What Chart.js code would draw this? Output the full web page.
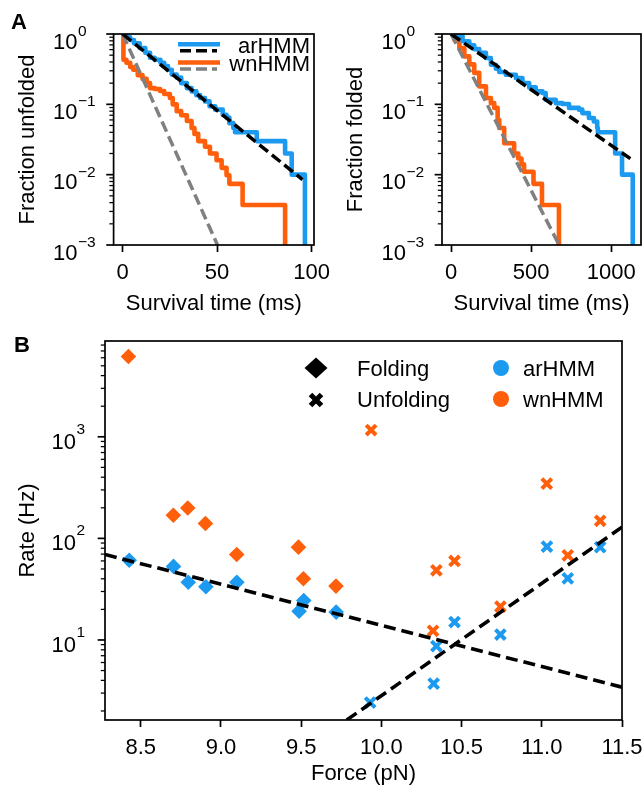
<!DOCTYPE html>
<html>
<head>
<meta charset="utf-8">
<title>Survival times and rates</title>
<script src="https://cdn.jsdelivr.net/npm/chart.js@4.4.1/dist/chart.umd.min.js"></script>
<style>
	html, body { margin: 0; padding: 0; background: #fff; }
	body { width: 642px; height: 790px; position: relative; overflow: hidden; }
	.panel { position: absolute; }
</style>
</head>
<body>
<div class="panel" style="left:0;top:0;width:330px;height:320px"><canvas id="chartUnfold" width="330" height="320"></canvas></div>
<div class="panel" style="left:330px;top:0;width:312px;height:320px"><canvas id="chartFold" width="312" height="320"></canvas></div>
<div class="panel" style="left:0;top:320px;width:642px;height:470px"><canvas id="chartRates" width="642" height="470"></canvas></div>
<script>
// panel A, left: unfolded state survival (ms, fraction)
var unfoldArTime = [0, 2, 4, 6, 9, 12, 14.5, 17, 20, 22, 24, 26, 28.6, 31, 34, 36.5, 39, 41, 43.6, 46, 49, 53, 55, 56.5, 58.6, 59.5, 71, 86, 89.5, 96.5];
var unfoldArFrac = [1, 0.9, 0.82, 0.74, 0.63, 0.54, 0.46, 0.43, 0.39, 0.35, 0.31, 0.265, 0.24, 0.2, 0.17, 0.153, 0.135, 0.123, 0.11, 0.094, 0.084, 0.071, 0.065, 0.054, 0.046, 0.04, 0.03, 0.02, 0.01, 0.0002];
var unfoldWnTime = [0, 0.4, 2, 4, 5.6, 8, 10.5, 12.7, 14.5, 17, 19.8, 22, 25, 26.5, 28.6, 31, 34, 36.5, 38, 40, 43.6, 46.2, 49.7, 52.4, 55, 56.5, 63.5, 86];
var unfoldWnFrac = [1, 0.43, 0.39, 0.34, 0.31, 0.26, 0.23, 0.2, 0.17, 0.165, 0.155, 0.14, 0.123, 0.1, 0.08, 0.07, 0.058, 0.046, 0.038, 0.03, 0.025, 0.02, 0.016, 0.0125, 0.0098, 0.0074, 0.0037, 0.0002];
var unfoldArFitTime = [0, 95.2];
var unfoldArFitFrac = [1, 0.0085];
var unfoldWnFitTime = [0, 50.2];
var unfoldWnFitFrac = [1, 0.001];

// panel A, right: folded state survival (ms, fraction)
var foldArTime = [0, 31, 72, 114, 145, 176, 218, 249, 280, 301, 342, 405, 446, 488, 529, 571, 591, 654, 695, 737, 799, 820, 861, 892, 913, 917, 1025, 1068, 1135];
var foldArFrac = [1, 0.93, 0.79, 0.69, 0.61, 0.54, 0.456, 0.366, 0.32, 0.288, 0.264, 0.237, 0.201, 0.174, 0.153, 0.145, 0.116, 0.104, 0.101, 0.089, 0.084, 0.075, 0.064, 0.057, 0.046, 0.04, 0.02, 0.01, 0.0002];
var foldWnTime = [0, 21, 52, 83, 114, 145, 176, 218, 249, 270, 291, 301, 332, 394, 420, 440, 456, 515, 568, 674];
var foldWnFrac = [1, 0.83, 0.63, 0.48, 0.37, 0.28, 0.18, 0.123, 0.104, 0.089, 0.06, 0.046, 0.028, 0.02, 0.017, 0.014, 0.011, 0.0074, 0.0037, 0.0002];
var foldArFitTime = [0, 1120];
var foldArFitFrac = [1, 0.0169];
var foldWnFitTime = [0, 675];
var foldWnFitFrac = [1, 0.001];

// panel B: rates (Hz) against force (pN)
var forceFoldAr = [8.428, 8.704, 8.796, 8.906, 9.099, 9.487, 9.516, 9.718];
var rateFoldAr = [61, 53, 37, 33.4, 37, 19.2, 24.5, 18.8];
var forceFoldWn = [8.423, 8.703, 8.793, 8.903, 9.098, 9.483, 9.514, 9.717];
var rateFoldWn = [6170, 169, 199, 140, 69.5, 82, 40, 33.9];
var forceUnfoldAr = [9.93, 10.326, 10.343, 10.456, 10.742, 11.032, 11.162, 11.364];
var rateUnfoldAr = [2.42, 3.72, 8.7, 15, 11.3, 83, 40.4, 82];
var forceUnfoldWn = [9.936, 10.322, 10.343, 10.456, 10.742, 11.031, 11.162, 11.364];
var rateUnfoldWn = [1166, 12.3, 48.5, 60, 21.3, 346, 68, 149];
var fitFoldForce = [8.277, 11.5];
var fitFoldRate = [69.5, 3.43];
var fitUnfoldForce = [9.784, 11.5];
var fitUnfoldRate = [1.63, 129];

var unfoldTicks = [0, 50, 100];
var foldTicks = [0, 500, 1000];
var forceTicks = [8.5, 9.0, 9.5, 10.0, 10.5, 11.0, 11.5];

var colAr = '#1b9af0';
var colWn = '#ff5e0b';
var colGray = '#808080';
var FONT = "'Liberation Sans', Arial, Helvetica, sans-serif";
var FS = 22;

Chart.defaults.font.family = FONT;
Chart.defaults.font.size = FS;
Chart.defaults.color = '#000';

function pts(xs, ys) {
	return xs.map((x, i) => ({x: x, y: ys[i]}));
}

function logTickValues(min, max) {
	let vals = [];
	for (let e = Math.floor(Math.log10(min)); e <= Math.ceil(Math.log10(max)); e++) {
		for (let k = 1; k <= 9; k++) {
			let v = k * Math.pow(10, e);
			if (v >= min * 0.9999 && v <= max * 1.0001) vals.push(v);
		}
	}
	return vals;
}

// log axis: minor/major ticks and 10^n labels with raised exponent
function drawLogAxis(chart, lab) {
	let {ctx, chartArea: a} = chart;
	let y = chart.scales.y;
	ctx.save();
	ctx.strokeStyle = '#000';
	ctx.fillStyle = '#000';
	logTickValues(y.min, y.max).forEach(v => {
		let p = y.getPixelForValue(v);
		let e = Math.log10(v);
		let major = Math.abs(e - Math.round(e)) < 1e-6;
		ctx.lineWidth = major ? 1.7 : 1.26;
		ctx.beginPath();
		ctx.moveTo(a.left, p);
		ctx.lineTo(a.left - (major ? 7.35 : 4.2), p);
		ctx.stroke();
		if (major) {
			let x0 = a.left - lab.left;
			ctx.textAlign = 'left';
			ctx.textBaseline = 'alphabetic';
			ctx.font = FS + 'px ' + FONT;
			ctx.fillText('10', x0, p + lab.base);
			let w = ctx.measureText('10').width;
			let ex = Math.round(e);
			ctx.font = '15.5px ' + FONT;
			ctx.fillText(ex < 0 ? '\u2212' + (-ex) : String(ex), x0 + w + 0.5, p + lab.exp);
		}
	});
	ctx.restore();
}

function decoPlugin(lab, extra) {
	return {
		id: 'deco',
		afterDatasetsDraw(chart) {
			let {ctx, chartArea: a} = chart;
			ctx.save();
			ctx.strokeStyle = '#000';
			ctx.lineWidth = 1.7;
			ctx.strokeRect(a.left, a.top, a.right - a.left, a.bottom - a.top);
			ctx.restore();
		},
		afterDraw(chart) {
			drawLogAxis(chart, lab);
			if (extra) extra(chart);
		}
	};
}

function xAxis(min, max, tickVals, fmt, height, title) {
	return {
		type: 'linear', min: min, max: max,
		border: {display: false},
		grid: {display: true, drawOnChartArea: false, drawTicks: true, tickLength: 7, tickWidth: 1.7, tickColor: '#000'},
		ticks: {padding: 7.5, autoSkip: false, maxRotation: 0, font: {size: FS}, callback: fmt},
		afterBuildTicks: s => { s.ticks = tickVals.map(v => ({value: v})); },
		afterFit: s => { s.height = height; s.paddingLeft = 0; s.paddingRight = 0; },
		title: {display: true, text: title, font: {size: FS}, padding: {top: 0, bottom: 2.5}}
	};
}

function yAxis(min, max, width, title, pad) {
	return {
		type: 'logarithmic', min: min, max: max,
		border: {display: false},
		grid: {display: false},
		ticks: {display: false},
		afterFit: s => { s.width = width; s.paddingTop = 0; s.paddingBottom = 0; },
		title: {display: true, text: title, font: {size: FS}, padding: {top: pad, bottom: 0}}
	};
}

function stepSet(data, color) {
	return {data: data, borderColor: color, borderWidth: 4.6, stepped: true, pointRadius: 0,
		fill: false, tension: 0, borderJoinStyle: 'round', clip: 0};
}

function fitSet(data, color) {
	return {data: data, borderColor: color, borderWidth: 3.5, borderDash: [11, 5], pointRadius: 0,
		fill: false, tension: 0, clip: 0};
}

var baseOptions = {
	responsive: false,
	animation: false,
	devicePixelRatio: 1,
	events: [],
	plugins: {legend: {display: false}, tooltip: {enabled: false}}
};

function drawLegendA(chart) {
	let ctx = chart.ctx;
	let rows = [
		{solid: colAr, dash: '#000', text: 'arHMM', y: 44.2},
		{solid: colWn, dash: colGray, text: 'wnHMM', y: 62.5}
	];
	ctx.save();
	rows.forEach(r => {
		ctx.setLineDash([]);
		ctx.lineWidth = 4.6;
		ctx.strokeStyle = r.solid;
		ctx.beginPath(); ctx.moveTo(178, r.y); ctx.lineTo(220, r.y); ctx.stroke();
		ctx.setLineDash([11, 5]);
		ctx.lineWidth = 3.5;
		ctx.strokeStyle = r.dash;
		ctx.beginPath(); ctx.moveTo(180, r.y + 6.6); ctx.lineTo(217, r.y + 6.6); ctx.stroke();
		ctx.fillStyle = '#000';
		ctx.font = FS + 'px ' + FONT;
		ctx.textAlign = 'right';
		ctx.textBaseline = 'alphabetic';
		ctx.fillText(r.text, 310, r.y + 8.8);
	});
	ctx.font = 'bold ' + FS + 'px ' + FONT;
	ctx.textAlign = 'left';
	ctx.fillText('A', 11, 29);
	ctx.restore();
}

function drawLegendB(chart) {
	let ctx = chart.ctx;
	ctx.save();
	ctx.fillStyle = '#000';
	ctx.beginPath();
	ctx.moveTo(316 - 11.5, 48); ctx.lineTo(316, 48 - 10.5); ctx.lineTo(316 + 11.5, 48); ctx.lineTo(316, 48 + 10.5);
	ctx.closePath(); ctx.fill();
	ctx.strokeStyle = '#000';
	ctx.lineWidth = 5;
	ctx.beginPath();
	ctx.moveTo(310.5, 74.5); ctx.lineTo(321.5, 85.5);
	ctx.moveTo(321.5, 74.5); ctx.lineTo(310.5, 85.5);
	ctx.stroke();
	ctx.fillStyle = colAr;
	ctx.beginPath(); ctx.arc(501, 48, 8, 0, 2 * Math.PI); ctx.fill();
	ctx.fillStyle = colWn;
	ctx.beginPath(); ctx.arc(501, 79, 8, 0, 2 * Math.PI); ctx.fill();
	ctx.fillStyle = '#000';
	ctx.font = FS + 'px ' + FONT;
	ctx.textAlign = 'left';
	ctx.textBaseline = 'alphabetic';
	ctx.fillText('Folding', 357, 55.5);
	ctx.fillText('Unfolding', 357, 86.7);
	ctx.fillText('arHMM', 523, 55.5);
	ctx.fillText('wnHMM', 523, 86.7);
	ctx.font = 'bold ' + FS + 'px ' + FONT;
	ctx.fillText('B', 14, 31.7);
	ctx.restore();
}

function chartUnfold() {
	let ctx = $('chartUnfold').getContext('2d');
	new Chart(ctx, {
		type: 'line',
		data: {datasets: [
			fitSet(pts(unfoldArFitTime, unfoldArFitFrac), '#000'),
			fitSet(pts(unfoldWnFitTime, unfoldWnFitFrac), colGray),
			stepSet(pts(unfoldArTime, unfoldArFrac), colAr),
			stepSet(pts(unfoldWnTime, unfoldWnFrac), colWn)
		]},
		options: Object.assign({}, baseOptions, {
			layout: {padding: {left: 0, top: 34, right: 16, bottom: 0}},
			scales: {
				x: xAxis(-4.8, 101.3, unfoldTicks, v => String(v), 75, 'Survival time (ms)'),
				y: yAxis(0.001, 1, 113.6, 'Fraction unfolded', 14.5)
			}
		}),
		plugins: [decoPlugin({left: 60.5, base: 14.5, exp: 2}, drawLegendA)]
	});
}

function chartFold() {
	let ctx = $('chartFold').getContext('2d');
	new Chart(ctx, {
		type: 'line',
		data: {datasets: [
			fitSet(pts(foldArFitTime, foldArFitFrac), '#000'),
			fitSet(pts(foldWnFitTime, foldWnFitFrac), colGray),
			stepSet(pts(foldArTime, foldArFrac), colAr),
			stepSet(pts(foldWnTime, foldWnFrac), colWn)
		]},
		options: Object.assign({}, baseOptions, {
			layout: {padding: {left: 0, top: 34, right: 1, bottom: 0}},
			scales: {
				x: xAxis(-56.5, 1186.5, foldTicks, v => String(v), 75, 'Survival time (ms)'),
				y: yAxis(0.001, 1, 112, 'Fraction folded', 12.7)
			}
		}),
		plugins: [decoPlugin({left: 60.5, base: 14.5, exp: 2})]
	});
}

function chartRates() {
	let ctx = $('chartRates').getContext('2d');
	let diamond = (data, color) => ({data: data, pointStyle: 'rectRot', pointRadius: 7.8,
		pointBackgroundColor: color, pointBorderWidth: 0, clip: false});
	let cross = (data, color) => ({data: data, pointStyle: 'crossRot', pointRadius: 7,
		pointBorderColor: color, pointBorderWidth: 4, clip: false});
	let fit = data => ({data: data, showLine: true, borderColor: '#000', borderWidth: 3.6,
		borderDash: [12, 6], pointRadius: 0, clip: 0});

	new Chart(ctx, {
		type: 'scatter',
		data: {datasets: [
			fit(pts(fitFoldForce, fitFoldRate)),
			fit(pts(fitUnfoldForce, fitUnfoldRate)),
			diamond(pts(forceFoldAr, rateFoldAr), colAr),
			cross(pts(forceUnfoldAr, rateUnfoldAr), colAr),
			diamond(pts(forceFoldWn, rateFoldWn), colWn),
			cross(pts(forceUnfoldWn, rateUnfoldWn), colWn)
		]},
		options: Object.assign({}, baseOptions, {
			layout: {padding: {left: 0, top: 21, right: 20, bottom: 0}},
			scales: {
				x: xAxis(8.277, 11.5, forceTicks, v => v.toFixed(1), 70, 'Force (pN)'),
				y: yAxis(1.63, 8770, 105, 'Rate (Hz)', 14.5)
			}
		}),
		plugins: [decoPlugin({left: 53.4, base: 12, exp: -3}, drawLegendB)]
	});
}

function $(id) {
	return document.getElementById(id);
}

chartUnfold();
chartFold();
chartRates();
</script>
</body>
</html>
